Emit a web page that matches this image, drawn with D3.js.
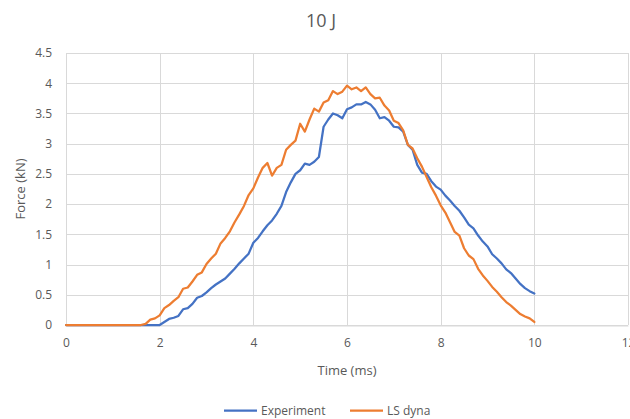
<!DOCTYPE html>
<html>
<head>
<meta charset="utf-8">
<script src="https://cdn.jsdelivr.net/npm/d3@7"></script>
<style>
  html, body { margin: 0; padding: 0; background: #fff; }
  svg { display: block; font-family: "Open Sans", Lato, sans-serif; }
</style>
</head>
<body>
<svg id="chart" width="630" height="419"></svg>
<script>
const chartTitle = "10 J";
const xTitle = "Time (ms)";
const yTitle = "Force (kN)";
const seriesNames = ["Experiment", "LS dyna"];
const xTicks = [0, 2, 4, 6, 8, 10, 12];
const yTicks = [0, 0.5, 1, 1.5, 2, 2.5, 3, 3.5, 4, 4.5];

const time = [0,0.1,0.2,0.3,0.4,0.5,0.6,0.7,0.8,0.9,1,1.1,1.2,1.3,1.4,1.5,1.6,1.7,1.8,1.9,
  2,2.1,2.2,2.3,2.4,2.5,2.6,2.7,2.8,2.9,3,3.1,3.2,3.3,3.4,3.5,3.6,3.7,3.8,3.9,
  4,4.1,4.2,4.3,4.4,4.5,4.6,4.7,4.8,4.9,5,5.1,5.2,5.3,5.4,5.5,5.6,5.7,5.8,5.9,
  6,6.1,6.2,6.3,6.4,6.5,6.6,6.7,6.8,6.9,7,7.1,7.2,7.3,7.4,7.5,7.6,7.7,7.8,7.9,
  8,8.1,8.2,8.3,8.4,8.5,8.6,8.7,8.8,8.9,9,9.1,9.2,9.3,9.4,9.5,9.6,9.7,9.8,9.9,10];

const experiment = [0,0,0,0,0,0,0,0,0,0,0,0,0,0,0,0,0,0,0,0,
  0,0.05,0.1,0.12,0.15,0.26,0.28,0.35,0.45,0.48,0.54,0.61,0.67,0.72,0.77,0.85,0.93,1.02,1.1,1.18,
  1.36,1.44,1.55,1.65,1.73,1.84,1.97,2.2,2.36,2.5,2.56,2.67,2.65,2.7,2.78,3.28,3.4,3.5,3.47,3.42,
  3.57,3.6,3.65,3.65,3.69,3.65,3.56,3.42,3.44,3.38,3.28,3.27,3.2,2.98,2.9,2.65,2.52,2.5,2.38,2.29,
  2.24,2.14,2.06,1.97,1.89,1.78,1.66,1.6,1.48,1.38,1.3,1.17,1.1,1.02,0.92,0.86,0.77,0.68,0.61,0.56,0.52];

const lsDyna = [0,0,0,0,0,0,0,0,0,0,0,0,0,0,0,0,0,0.02,0.09,0.11,
  0.16,0.28,0.33,0.4,0.46,0.6,0.62,0.72,0.83,0.87,1.01,1.1,1.18,1.35,1.44,1.55,1.7,1.83,1.97,2.15,
  2.26,2.44,2.6,2.68,2.47,2.6,2.65,2.9,2.98,3.05,3.33,3.2,3.4,3.58,3.53,3.68,3.72,3.87,3.82,3.86,
  3.96,3.9,3.93,3.87,3.93,3.82,3.75,3.76,3.63,3.55,3.38,3.34,3.22,2.98,2.92,2.76,2.62,2.45,2.28,2.14,
  1.98,1.86,1.7,1.54,1.48,1.27,1.15,1.09,0.93,0.82,0.73,0.63,0.55,0.46,0.38,0.32,0.25,0.18,0.14,0.11,0.05];

const colors = ["#4472C4", "#ED7D31"];
const textColor = "#595959";
const gridColor = "#D9D9D9";

const svg = d3.select("#chart");
const margin = { left: 66, right: 2, top: 53, bottom: 94 };
const W = 630, H = 419;

const x = d3.scaleLinear().domain([0, 12]).range([margin.left, W - margin.right]);
const y = d3.scaleLinear().domain([0, 4.5]).range([H - margin.bottom, margin.top]);

// gridlines
svg.append("g").selectAll("line.h").data(yTicks).join("line")
  .attr("x1", x(0)).attr("x2", x(12))
  .attr("y1", d => Math.round(y(d)) + 0.5).attr("y2", d => Math.round(y(d)) + 0.5)
  .attr("stroke", gridColor).attr("stroke-width", 1);
svg.append("g").selectAll("line.v").data(xTicks).join("line")
  .attr("x1", d => Math.round(x(d)) + 0.5).attr("x2", d => Math.round(x(d)) + 0.5)
  .attr("y1", y(4.5)).attr("y2", y(0))
  .attr("stroke", gridColor).attr("stroke-width", 1);

// axes
const xAxis = d3.axisBottom(x).tickValues(xTicks).tickSize(0).tickPadding(13).tickFormat(d3.format("d"));
const gx = svg.append("g").attr("transform", `translate(0,${Math.round(y(0)) + 0.5})`).call(xAxis);
gx.select(".domain").attr("stroke", gridColor);
gx.selectAll("text").attr("fill", textColor).attr("font-size", 12).attr("font-family", "'Open Sans', sans-serif");

const yAxis = d3.axisLeft(y).tickValues(yTicks).tickSize(0).tickPadding(14).tickFormat(d => String(d));
const gy = svg.append("g").attr("transform", `translate(${x(0)},0)`).call(yAxis);
gy.select(".domain").remove();
gy.selectAll("text").attr("fill", textColor).attr("font-size", 12).attr("font-family", "'Open Sans', sans-serif");

// lines
const series = [experiment, lsDyna];
const line = d3.line().x((d, i) => x(time[i])).y(d => y(d));
series.forEach((s, k) => {
  svg.append("path").datum(s)
    .attr("d", line)
    .attr("fill", "none")
    .attr("stroke", colors[k])
    .attr("stroke-width", 2.25)
    .attr("stroke-linejoin", "round")
    .attr("stroke-linecap", "round");
});

// titles
svg.append("text").attr("x", 321).attr("y", 27).attr("text-anchor", "middle")
  .attr("fill", textColor).attr("font-size", 18).text(chartTitle);
svg.append("text").attr("x", 347).attr("y", 375).attr("text-anchor", "middle")
  .attr("fill", textColor).attr("font-size", 13).text(xTitle);
svg.append("text").attr("transform", `translate(25,${(y(0) + y(4.5)) / 2}) rotate(-90)`)
  .attr("text-anchor", "middle").attr("fill", textColor).attr("font-size", 13).text(yTitle);

// legend
const legendItems = [
  { name: seriesNames[0], color: colors[0], x0: 224 },
  { name: seriesNames[1], color: colors[1], x0: 350 }
];
const lg = svg.append("g");
legendItems.forEach(it => {
  lg.append("line").attr("x1", it.x0).attr("x2", it.x0 + 33).attr("y1", 410.5).attr("y2", 410.5)
    .attr("stroke", it.color).attr("stroke-width", 2.25);
  lg.append("text").attr("x", it.x0 + 37).attr("y", 414.5).attr("fill", textColor)
    .attr("font-size", 12).text(it.name);
});
</script>
</body>
</html>
